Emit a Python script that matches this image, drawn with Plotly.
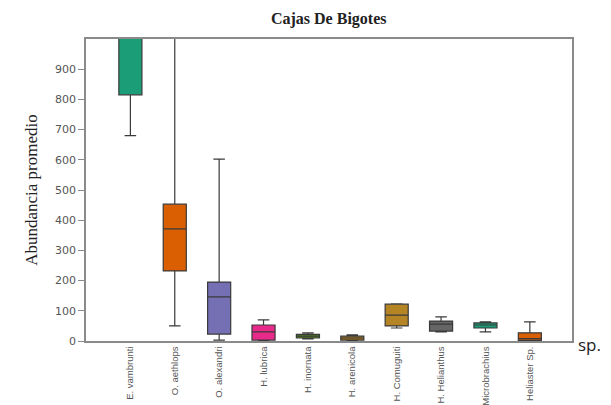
import plotly.graph_objects as go

species = ["E. vambrunti", "O. aethlops", "O. alexandri", "H. lubrica", "H. inornata",
           "H. arenicola", "H. Comuguiti", "H. Helianthus", "Microbrachius", "Heliaster Sp."]
lower_fence = [680, 50, 3, 2, 7, 2, 43, 30, 30, 0]
q1 = [815, 232, 23, 3, 10, 3, 50, 33, 43, 2]
median = [1100, 371, 146, 30, 16, 10, 86, 56, 53, 8]
q3 = [1250, 453, 195, 53, 22, 16, 122, 66, 60, 27]
upper_fence = [1400, 1300, 602, 70, 27, 20, 123, 80, 63, 63]
colors = ["#1b9e77", "#d95f02", "#7570b3", "#e7298a", "#4f8a1b",
          "#a6761d", "#b58424", "#666666", "#1b9e77", "#d95f02"]
y_ticks = [0, 100, 200, 300, 400, 500, 600, 700, 800, 900]

fig = go.Figure()
for i, sp in enumerate(species):
    fig.add_trace(go.Box(
        x=[sp], q1=[q1[i]], median=[median[i]], q3=[q3[i]],
        lowerfence=[lower_fence[i]], upperfence=[upper_fence[i]],
        fillcolor=colors[i], line=dict(color="#3a3a3a", width=1.2),
        width=0.52, whiskerwidth=0.5, showlegend=False, name=sp,
        hoverinfo="skip",
    ))

fig.update_layout(
    width=611, height=405,
    margin=dict(l=86, r=39, t=39, b=64),
    paper_bgcolor="white", plot_bgcolor="white",
    boxmode="overlay",
    title=dict(text="<b>Cajas De Bigotes</b>", x=0.538, xanchor="center", y=0.955, yanchor="middle",
               font=dict(family="Liberation Serif", size=16, color="#222")),
    annotations=[dict(text="sp.", xref="paper", yref="paper", x=1.008, y=-0.01,
                      xanchor="left", yanchor="middle", showarrow=False,
                      font=dict(family="Open Sans", size=17, color="#222"))],
)
fig.update_xaxes(
    type="category", categoryorder="array", categoryarray=species,
    range=[-1, 9.95], tickangle=-90, showline=True, mirror=True,
    linecolor="#8a8a8a", linewidth=1.5, ticks="", showgrid=False, automargin=False,
    tickfont=dict(family="Liberation Sans", size=9.5, color="#555"),
)
fig.update_yaxes(
    range=[0, 1000], tickvals=y_ticks, showline=True, mirror=True,
    linecolor="#8a8a8a", linewidth=1.5, ticks="outside", ticklen=6, tickcolor="#8a8a8a",
    showgrid=False, zeroline=False, automargin=False,
    tickfont=dict(family="DejaVu Sans", size=11, color="#555"),
    title=dict(text="Abundancia promedio", standoff=13,
               font=dict(family="Liberation Serif", size=17, color="#222")),
)

fig.write_html("out.html", config={"displayModeBar": False},
               post_script="document.body.style.margin='0';document.body.style.overflow='hidden';")
